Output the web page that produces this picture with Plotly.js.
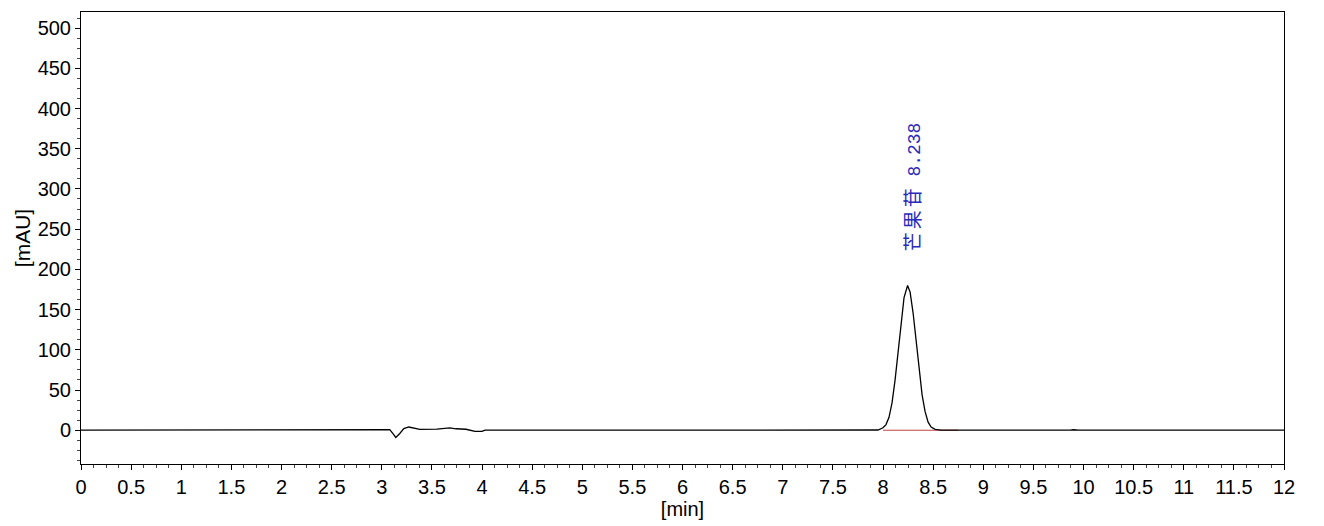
<!DOCTYPE html>
<html>
<head>
<meta charset="utf-8">
<script src="https://cdn.plot.ly/plotly-3.0.1.min.js"></script>
<style>html,body{margin:0;padding:0;background:#fff}#chart{width:1324px;height:526px}</style>
</head>
<body>
<div id="chart"></div>
<script>
// Retention time (min) and absorbance (mAU)
const timeMin = [0, 2.15, 2.2, 2.25, 2.83, 2.87, 3.08, 3.11, 3.14, 3.18, 3.22, 3.27, 3.33, 3.38, 3.55, 3.62, 3.68, 3.74, 3.84, 3.93, 4.0, 4.03, 4.78, 4.81, 4.86,
  7.90, 7.95, 8.00, 8.03, 8.06, 8.09, 8.12, 8.15, 8.18, 8.21, 8.245, 8.27, 8.30, 8.33, 8.36, 8.39, 8.42, 8.45, 8.48, 8.52, 8.58, 8.65,
  9.87, 9.9, 9.95, 11.33, 11.37, 11.8, 11.84, 12];
const signalMAU = [0, 0, 0.9, 0, 0, 0.9, 0.8, -4, -9, -4, 2, 4, 2.5, 1, 1.3, 2, 2.8, 1.8, 1.2, -1.5, -1.5, 0, 0, 0.5, 0,
  0, 0.3, 3, 7, 16, 34, 62, 97, 134, 165, 180, 172, 146, 110, 74, 44, 23, 10, 4, 1, 0.2, 0,
  0, 0.6, 0, 0, 0.8, 0.8, 0, 0];
// Integration baseline of the labelled peak
const baselineTime = [8.0, 8.75];
const baselineMAU = [0, 0];
// Peak label
const peakName = "芒果苷";
const peakRT = 8.238;
const labelY = 220;
// Tick labels
const xTickVals = [0,0.5,1,1.5,2,2.5,3,3.5,4,4.5,5,5.5,6,6.5,7,7.5,8,8.5,9,9.5,10,10.5,11,11.5,12];
const yTickVals = [0,50,100,150,200,250,300,350,400,450,500];

const traces = [
  {x: baselineTime, y: baselineMAU, type: 'scatter', mode: 'lines', line: {color: '#c04040', width: 1}, hoverinfo: 'skip'},
  {x: timeMin, y: signalMAU, type: 'scatter', mode: 'lines', line: {color: '#000000', width: 1.3}, hoverinfo: 'skip'}
];

const font = {family: 'Arial, "Liberation Sans", sans-serif', size: 20, color: '#000'};
const layout = {
  width: 1324, height: 526,
  margin: {l: 81, r: 40, t: 12, b: 62, pad: 0},
  paper_bgcolor: '#fff', plot_bgcolor: '#fff',
  showlegend: false,
  font: font,
  xaxis: {
    range: [0, 12], tickvals: xTickVals, ticktext: xTickVals.map(String),
    ticks: 'outside', ticklen: 5, tickwidth: 1, tickcolor: '#000',
    minor: {dtick: 0.125, ticks: 'outside', ticklen: 3, tickcolor: '#444', showgrid: false},
    showline: true, linecolor: '#000', linewidth: 1, mirror: true,
    showgrid: false, zeroline: false,
    tickfont: font,
    title: {text: '[min]', font: font, standoff: 4}
  },
  yaxis: {
    range: [-42, 520], tickvals: yTickVals, ticktext: yTickVals.map(String),
    ticks: 'outside', ticklen: 5, tickwidth: 1, tickcolor: '#000',
    minor: {dtick: 12.5, ticks: 'outside', ticklen: 3, tickcolor: '#444', showgrid: false},
    showline: true, linecolor: '#000', linewidth: 1, mirror: true,
    showgrid: false, zeroline: false,
    tickfont: font,
    title: {text: '[mAU]', font: {family: font.family, size: 21, color: '#000'}, standoff: 1}
  },
  annotations: [{
    x: peakRT + 0.045, y: labelY, xref: 'x', yref: 'y',
    text: '<span style="letter-spacing:3px">' + peakName + '</span>  <span style="font-family:\'Liberation Mono\', monospace;font-size:18px">' + peakRT.toFixed(3) + '</span>',
    textangle: -90, showarrow: false,
    xanchor: 'center', yanchor: 'bottom',
    font: {family: '"Noto Sans CJK SC", "DejaVu Sans", sans-serif', size: 19, color: '#2a2ab8'}
  }]
};
Plotly.newPlot('chart', traces, layout, {displayModeBar: false, staticPlot: true});
</script>
</body>
</html>
